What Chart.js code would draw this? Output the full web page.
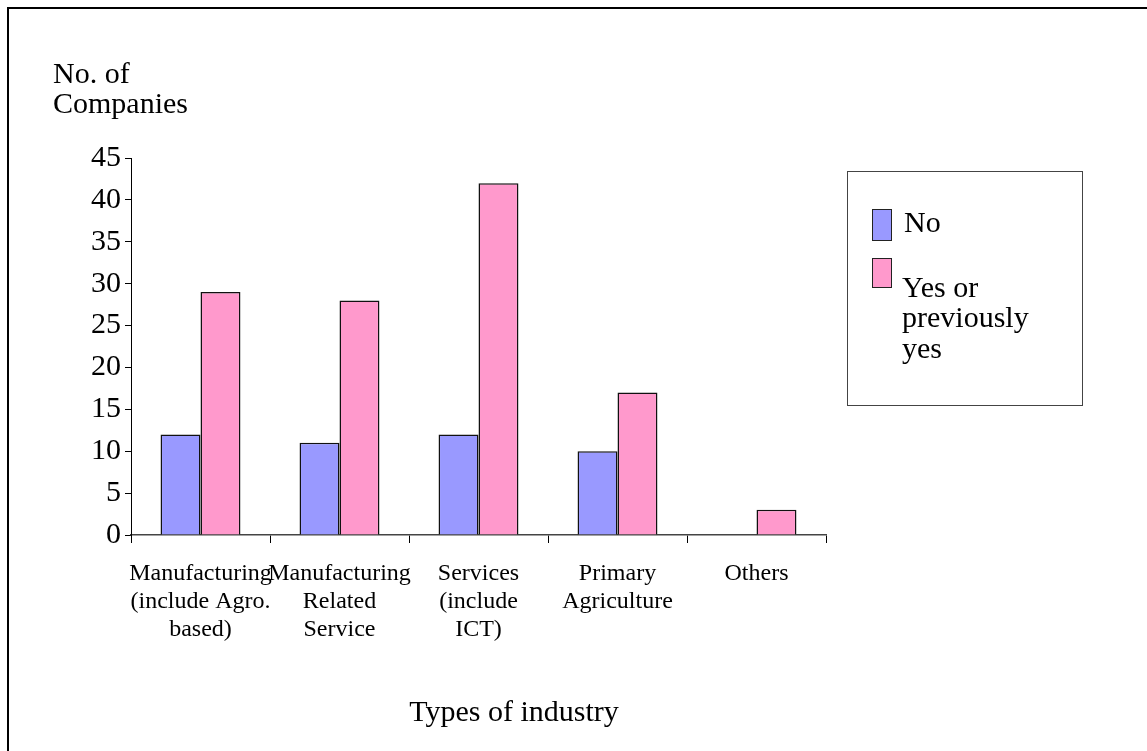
<!DOCTYPE html>
<html>
<head>
<meta charset="utf-8">
<script src="https://cdn.jsdelivr.net/npm/chart.js@4/dist/chart.umd.min.js"></script>
<style>
  html, body { margin: 0; padding: 0; background: #fff; }
  #wrap { position: relative; width: 1147px; height: 751px; overflow: hidden; }
  #frame { position: absolute; left: 7px; top: 7px; width: 1200px; height: 800px;
           border-top: 2px solid #000; border-left: 2px solid #000; }
  canvas { position: absolute; left: 0; top: 0; }
</style>
</head>
<body>
<div id="wrap">
  <div id="frame"></div>
  <canvas id="industryChart" width="1147" height="751"></canvas>
</div>
<script>
// categories and values
const industries = [
    ['Manufacturing', '(include Agro.', 'based)'],
    ['Manufacturing', 'Related', 'Service'],
    ['Services', '(include', 'ICT)'],
    ['Primary', 'Agriculture'],
    'Others'
];
const noValues = [12, 11, 12, 10, 0];
const yesValues = [29, 28, 42, 17, 3];
const seriesNames = ['No', 'Yes or previously yes'];
const yTicks = [0, 5, 10, 15, 20, 25, 30, 35, 40, 45];

const serif = "'Liberation Serif', 'Times New Roman', serif";

// axis titles + legend box, drawn like the original Excel chart
const decorations = {
    id: 'decorations',
    afterDraw(chart) {
        const ctx = chart.ctx;
        ctx.save();
        ctx.fillStyle = '#000';
        ctx.font = '30px ' + serif;
        ctx.textBaseline = 'alphabetic';
        ctx.textAlign = 'left';
        ctx.fillText('No. of', 53, 83);
        ctx.fillText('Companies', 53, 113);
        ctx.textAlign = 'center';
        ctx.fillText('Types of industry', 514, 721);

        // legend
        ctx.strokeStyle = '#444';
        ctx.lineWidth = 1;
        ctx.strokeRect(847.5, 171.5, 235, 234);
        const ds = chart.data.datasets;
        ctx.strokeStyle = '#222';
        ctx.fillStyle = ds[0].backgroundColor;
        ctx.fillRect(872.5, 209.5, 19, 31);
        ctx.strokeRect(872.5, 209.5, 19, 31);
        ctx.fillStyle = ds[1].backgroundColor;
        ctx.fillRect(872.5, 258.5, 19, 29);
        ctx.strokeRect(872.5, 258.5, 19, 29);
        ctx.fillStyle = '#000';
        ctx.textAlign = 'left';
        ctx.fillText(ds[0].label, 904, 232);
        ctx.fillText('Yes or', 902, 297);
        ctx.fillText('previously', 902, 327);
        ctx.fillText('yes', 902, 358);
        ctx.restore();
    }
};

const ctx = document.getElementById('industryChart').getContext('2d');

new Chart(ctx, {
    type: 'bar',
    data: {
        labels: industries,
        datasets: [
            {
                label: seriesNames[0],
                data: noValues,
                backgroundColor: '#9999FF',
                borderColor: '#111',
                borderWidth: 1.5
            },
            {
                label: seriesNames[1],
                data: yesValues,
                backgroundColor: '#FF99CC',
                borderColor: '#111',
                borderWidth: 1.5
            }
        ]
    },
    options: {
        responsive: false,
        animation: false,
        layout: {
            padding: { left: 20, top: 158, right: 321, bottom: 20 }
        },
        plugins: {
            legend: { display: false },
            tooltip: { enabled: false }
        },
        datasets: {
            bar: { categoryPercentage: 0.575, barPercentage: 1.0 }
        },
        scales: {
            x: {
                grid: {
                    display: true,
                    offset: true,
                    drawOnChartArea: false,
                    drawTicks: true,
                    tickLength: 8,
                    color: '#000'
                },
                border: { display: true, color: '#444', width: 1.5 },
                ticks: {
                    color: '#000',
                    maxRotation: 0,
                    autoSkip: false,
                    padding: 17,
                    font: { family: serif, size: 24, lineHeight: 1.17 }
                },
                afterFit(scale) { scale.height = 196; }
            },
            y: {
                min: 0,
                max: 45,
                afterBuildTicks(scale) {
                    scale.ticks = yTicks.map(v => ({ value: v }));
                },
                grid: {
                    display: true,
                    drawOnChartArea: false,
                    drawTicks: true,
                    tickLength: 6,
                    color: '#000'
                },
                border: { display: true, color: '#000', width: 1 },
                ticks: {
                    color: '#000',
                    padding: 4,
                    font: { family: serif, size: 30 }
                },
                afterFit(scale) { scale.width = 111; }
            }
        }
    },
    plugins: [decorations]
});
</script>
</body>
</html>
